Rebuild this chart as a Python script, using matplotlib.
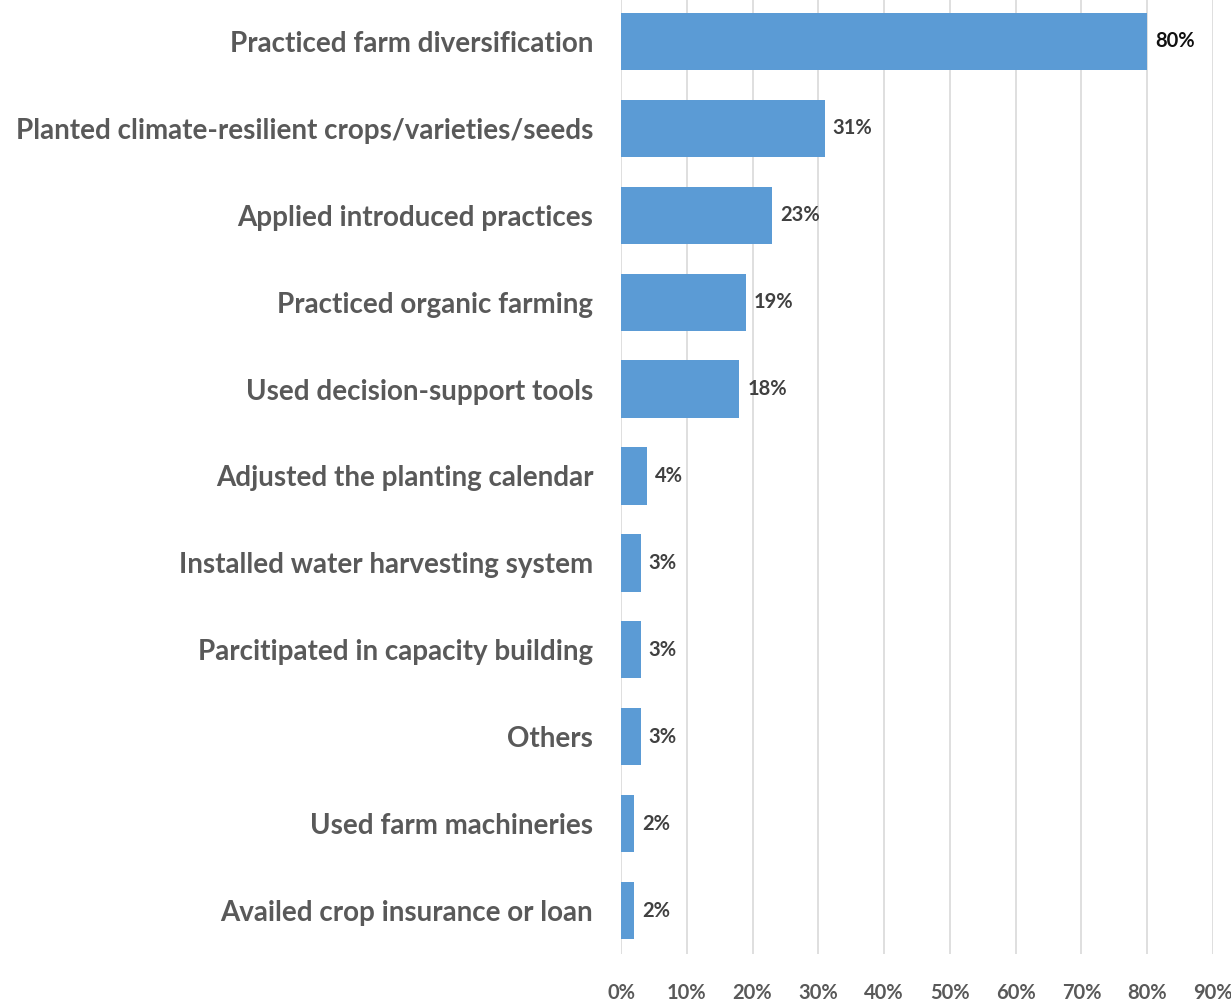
import matplotlib.pyplot as plt
from matplotlib.ticker import FuncFormatter

categories = [
    "Practiced farm diversification",
    "Planted climate-resilient crops/varieties/seeds",
    "Applied introduced practices",
    "Practiced organic farming",
    "Used decision-support tools",
    "Adjusted the planting calendar",
    "Installed water harvesting system",
    "Parcitipated in capacity building",
    "Others",
    "Used farm machineries",
    "Availed crop insurance or loan",
]
values = [80, 31, 23, 19, 18, 4, 3, 3, 3, 2, 2]
xticks = [0, 10, 20, 30, 40, 50, 60, 70, 80, 90]

plt.rcParams['font.family'] = ['Lato', 'DejaVu Sans']

fig = plt.figure(figsize=(12.31, 10.07), dpi=100)
ax = fig.add_axes([621 / 1231, 53 / 1007, (1213 - 621) / 1231, 956 / 1007])

y = list(range(len(categories)))
ax.barh(y, values, height=0.66, color='#5b9bd5', zorder=3)
ax.set_ylim(len(categories) - 0.5, -0.5)
ax.set_xlim(0, 90)

ax.set_yticks(y)
ax.set_yticklabels(categories, fontsize=20, fontweight='bold', color='#595959')
ax.set_xticks(xticks)
ax.xaxis.set_major_formatter(FuncFormatter(lambda v, p: f"{int(v)}%"))
for lbl in ax.get_xticklabels():
    lbl.set_fontsize(14.5)
    lbl.set_fontweight('bold')
    lbl.set_color('#595959')

ax.tick_params(axis='both', length=0)
ax.tick_params(axis='y', pad=20)
ax.tick_params(axis='x', pad=21)
ax.grid(axis='x', color='#d9d9d9', linewidth=1.2, zorder=0)
for s in ax.spines.values():
    s.set_visible(False)

for i, v in enumerate(values):
    ax.text(v + 1.2, i, f"{v}%", va='center', ha='left', fontsize=14.5,
            fontweight='bold', color='#111111' if i == 0 else '#404040')

fig.savefig('out.png', dpi=100)
